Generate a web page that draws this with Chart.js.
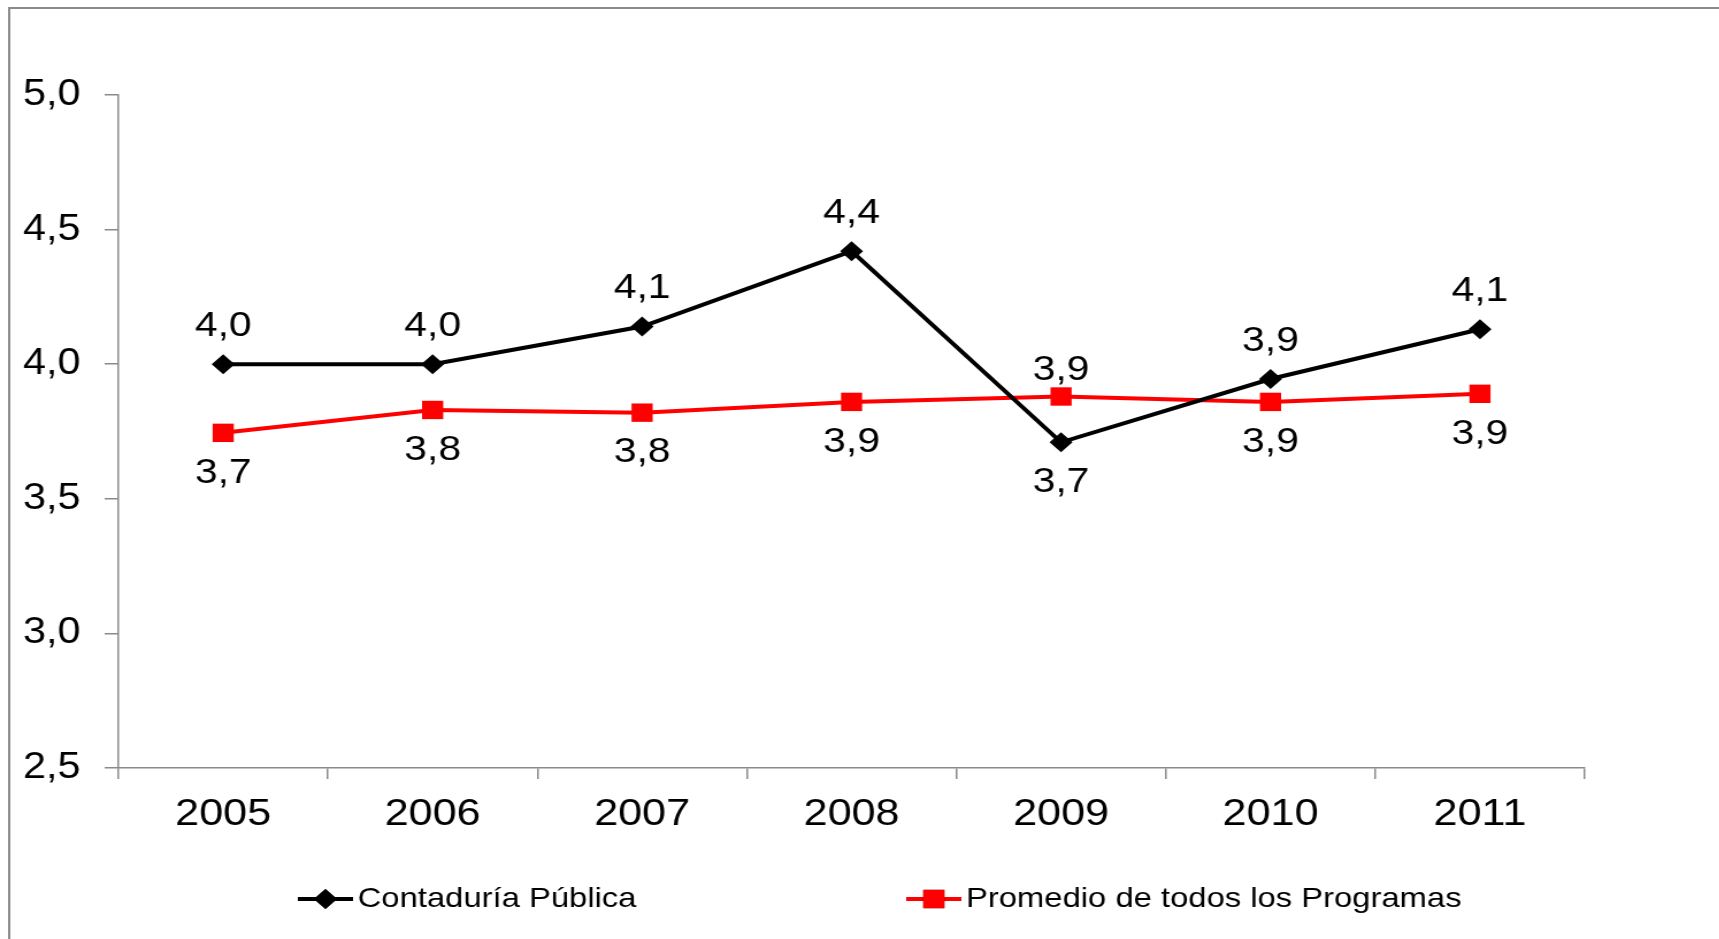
<!DOCTYPE html>
<html>
<head>
<meta charset="utf-8">
<script src="https://cdn.jsdelivr.net/npm/chart.js@4.4.1/dist/chart.umd.min.js"></script>
<style>
  html, body { margin: 0; padding: 0; background: #fff; overflow: hidden; }
  /* el original viene estirado a lo ancho */
  #marco { width: 1495px; height: 939px; transform: scaleX(1.15); transform-origin: 0 0; }
</style>
</head>
<body>
<div id="marco"><canvas id="grafica"></canvas></div>
<script>
const anios = ['2005', '2006', '2007', '2008', '2009', '2010', '2011'];
const contaduria = [4.0, 4.0, 4.14, 4.42, 3.71, 3.945, 4.13];
const promedio = [3.745, 3.83, 3.82, 3.86, 3.88, 3.86, 3.89];
const ticksY = [2.5, 3.0, 3.5, 4.0, 4.5, 5.0];
// donde va la etiqueta de cada punto
const posContaduria = ['arriba', 'arriba', 'arriba', 'arriba', 'abajo', 'arriba', 'arriba'];
const posPromedio = ['abajo', 'abajo', 'abajo', 'abajo', 'arriba', 'abajo', 'abajo'];

const fuente = '"Liberation Sans", Arial, sans-serif';
const gris = '#8a8a8a';

function coma(v) {
  return v.toFixed(1).replace('.', ',');
}

const marcoPlugin = {
  id: 'marco',
  beforeDraw(chart) {
    const ctx = chart.ctx;
    ctx.save();
    ctx.strokeStyle = gris;
    ctx.lineWidth = 2;
    ctx.beginPath();
    ctx.moveTo(8, chart.height + 5);
    ctx.lineTo(8, 8);
    ctx.lineTo(chart.width + 5, 8);
    ctx.stroke();
    ctx.restore();
  }
};

const etiquetasPlugin = {
  id: 'etiquetas',
  afterDatasetsDraw(chart) {
    const ctx = chart.ctx;
    const posiciones = [posContaduria, posPromedio];
    const arriba = [-38, -26];
    ctx.save();
    ctx.font = '35.5px ' + fuente;
    ctx.fillStyle = '#000';
    ctx.textAlign = 'center';
    ctx.textBaseline = 'middle';
    chart.data.datasets.forEach((ds, i) => {
      const meta = chart.getDatasetMeta(i);
      meta.data.forEach((p, j) => {
        const dy = posiciones[i][j] === 'arriba' ? arriba[i] : 40;
        ctx.fillText(coma(ds.data[j]), p.x, p.y + dy);
      });
    });
    ctx.restore();
  }
};

const leyendaPlugin = {
  id: 'leyenda',
  afterDraw(chart) {
    const ctx = chart.ctx;
    const area = chart.chartArea;
    const inicios = [area.left + 156, area.left + 685];
    const y = 899;
    ctx.save();
    ctx.font = '28.5px ' + fuente;
    ctx.textBaseline = 'middle';
    ctx.textAlign = 'left';
    chart.data.datasets.forEach((ds, i) => {
      const x = inicios[i];
      ctx.strokeStyle = ds.borderColor;
      ctx.lineWidth = 4;
      ctx.beginPath();
      ctx.moveTo(x, y);
      ctx.lineTo(x + 48, y);
      ctx.stroke();
      Chart.helpers.drawPoint(ctx, {
        pointStyle: ds.pointStyle,
        radius: ds.pointRadius,
        borderWidth: 0
      }, x + 24, y);
      ctx.fillStyle = ds.pointBackgroundColor;
      ctx.fill();
      ctx.fillStyle = '#000';
      ctx.fillText(ds.label, x + 52, y);
    });
    ctx.restore();
  }
};

const ctx = document.getElementById('grafica').getContext('2d');
const grafica = new Chart(ctx, {
  type: 'line',
  data: {
    labels: anios,
    datasets: [{
      label: 'Contaduría Pública',
      data: contaduria,
      borderColor: '#000000',
      backgroundColor: '#000000',
      pointBackgroundColor: '#000000',
      pointBorderColor: '#000000',
      pointStyle: 'rectRot',
      pointRadius: 10,
      pointBorderWidth: 0,
      borderWidth: 4,
      tension: 0
    }, {
      label: 'Promedio de todos los Programas',
      data: promedio,
      borderColor: '#ff0000',
      backgroundColor: '#ff0000',
      pointBackgroundColor: '#ff0000',
      pointBorderColor: '#ff0000',
      pointStyle: 'rect',
      pointRadius: 13,
      pointBorderWidth: 0,
      borderWidth: 4,
      tension: 0
    }]
  },
  options: {
    responsive: true,
    maintainAspectRatio: false,
    animation: false,
    layout: { padding: { top: 95, right: 117, bottom: 111, left: 0 } },
    plugins: {
      legend: { display: false },
      tooltip: { enabled: false }
    },
    scales: {
      x: {
        offset: true,
        afterFit: s => { s.height = 60; },
        grid: { offset: true, drawOnChartArea: false, drawTicks: true, tickLength: 11, color: gris, lineWidth: 1.5 },
        border: { color: gris, width: 1.5 },
        ticks: { color: '#000', padding: 13, font: { family: fuente, size: 37.5 } }
      },
      y: {
        min: 2.5,
        max: 5.0,
        afterFit: s => { s.width = 103; },
        afterBuildTicks: s => { s.ticks = ticksY.map(v => ({ value: v })); },
        grid: { drawOnChartArea: false, drawTicks: true, tickLength: 12, color: gris, lineWidth: 1.5 },
        border: { color: gris, width: 1.5 },
        ticks: { color: '#000', padding: 21, font: { family: fuente, size: 36 }, callback: v => coma(v) }
      }
    }
  },
  plugins: [marcoPlugin, etiquetasPlugin, leyendaPlugin]
});
</script>
</body>
</html>
